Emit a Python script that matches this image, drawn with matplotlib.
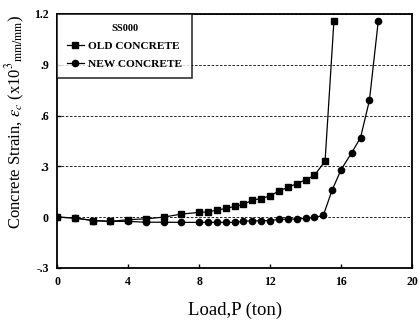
import matplotlib
matplotlib.use("Agg")
import matplotlib.pyplot as plt

# load (ton) and strain (x10^3 mm/mm)
old_load = [0, 1, 2, 3, 4, 5, 6, 7, 8, 8.5, 9, 9.5, 10, 10.5, 11, 11.5,
            12, 12.5, 13, 13.5, 14, 14.5, 15.1, 15.6]
old_strain = [0, -0.005, -0.02, -0.025, -0.015, -0.01, 0.0, 0.018, 0.028, 0.031,
              0.041, 0.051, 0.063, 0.075, 0.10, 0.11, 0.125, 0.155, 0.175,
              0.198, 0.22, 0.247, 0.33, 1.16]

new_load = [0, 1, 2, 3, 4, 5, 6, 7, 8, 8.5, 9, 9.5, 10, 10.5, 11, 11.5,
            12, 12.5, 13, 13.5, 14, 14.5, 15.0, 15.5, 16.0, 16.6, 17.1, 17.6, 18.1]
new_strain = [0, -0.005, -0.02, -0.025, -0.025, -0.03, -0.03, -0.031, -0.031,
              -0.031, -0.031, -0.031, -0.031, -0.024, -0.022, -0.022, -0.02,
              -0.013, -0.012, -0.012, -0.006, -0.002, 0.01, 0.16, 0.28, 0.38,
              0.47, 0.69, 1.16]

xticks = [0, 4, 8, 12, 16, 20]
yticks = [-0.3, 0, 0.3, 0.6, 0.9, 1.2]
ytick_labels = ['-.3', '0', '.3', '.6', '.9', '1.2']

plt.rcParams['font.family'] = ['Liberation Serif', 'DejaVu Serif']
plt.rcParams['mathtext.fontset'] = 'stix'

fig = plt.figure(figsize=(4.2, 3.32), dpi=100)
ax = fig.add_axes([0.136, 0.193, 0.845, 0.765])

ax.plot(old_load, old_strain, color='black', lw=0.9, marker='s', ms=4.5,
        label='OLD CONCRETE')
ax.plot(new_load, new_strain, color='black', lw=0.9, marker='o', ms=4.5,
        label='NEW CONCRETE')

ax.set_xlim(0, 20)
ax.set_ylim(-0.3, 1.2)
ax.set_xticks(xticks)
ax.set_xticklabels([str(t) for t in xticks])
ax.set_yticks(yticks)
ax.set_yticklabels(ytick_labels)
ax.tick_params(direction='in', length=3, width=1, labelsize=8.5, pad=6)
for lab in ax.get_xticklabels() + ax.get_yticklabels():
    lab.set_fontweight('bold')

ax.yaxis.grid(True, linestyle=(0, (3, 2)), color='black', lw=0.6)
for s in ax.spines.values():
    s.set_linewidth(1.3)

ax.set_xlabel('Load,P (ton)', fontsize=13.5, labelpad=10)
ax.set_ylabel(r'Concrete Strain, $\varepsilon_c$ (x10$^3$$_{\rm mm/mm}$)',
              fontsize=12)
ax.yaxis.set_label_coords(-0.085, 0.575)

leg = ax.legend(loc='upper left', title='SS000', fontsize=8.2,
                title_fontsize=7.5, frameon=True, fancybox=False,
                edgecolor='black', borderaxespad=0, handlelength=1.5,
                handletextpad=0.4, borderpad=0.85, labelspacing=0.7,
                alignment='center')
leg.get_frame().set_linewidth(1.2)
leg.get_title().set_fontweight('bold')
for t in leg.get_texts():
    t.set_fontweight('bold')

fig.savefig('out.png', dpi=100)
